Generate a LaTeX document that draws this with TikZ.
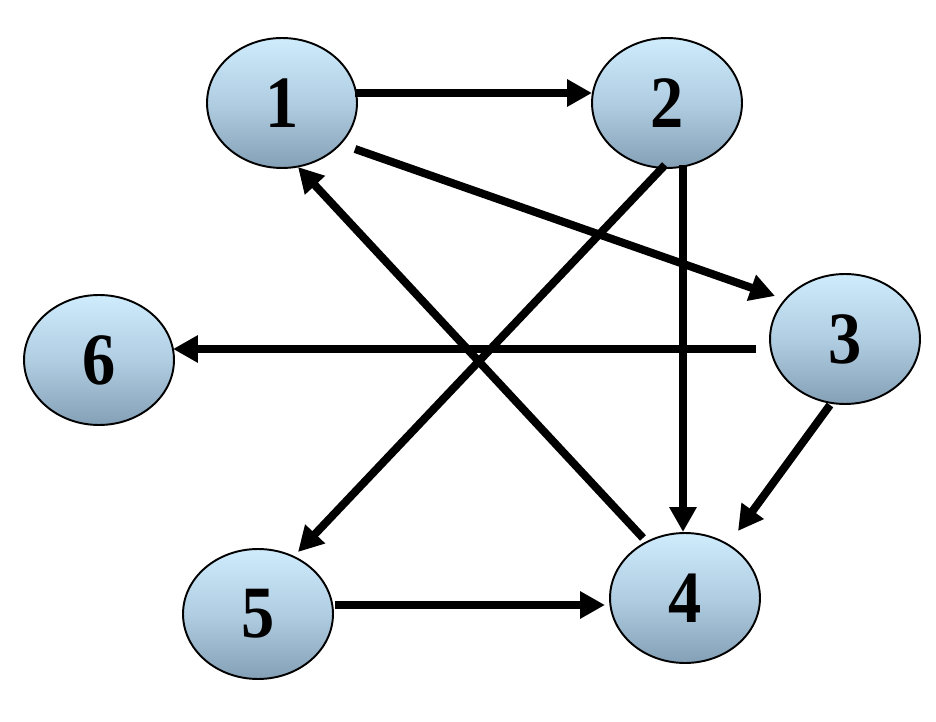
\documentclass[tikz,border=0pt]{standalone}
\usepackage{fontspec}
\setmainfont{Liberation Serif}
\usetikzlibrary{shapes.geometric,arrows.meta,calc}
\definecolor{topblue}{RGB}{206,236,252}
\definecolor{botblue}{RGB}{132,160,182}
\tikzset{
  vert/.style={ellipse, draw=black, line width=1.1pt, minimum width=3cm, minimum height=2.6cm, inner sep=0pt,
    top color=topblue, bottom color=botblue, middle color={rgb,255:red,176;green,205;blue,226},
    font=\fontsize{42}{42}\selectfont\bfseries},
  edge/.style={line width=0.16cm, -{Triangle[length=0.5cm,width=0.52cm]}}
}
\begin{document}
\begin{tikzpicture}[x=0.02cm,y=-0.02cm]
\useasboundingbox[fill=white] (0,0) rectangle (936,722);
\node[vert] (n1) at (282,103) {\scalebox{0.9}[1]{1}};
\node[vert] (n2) at (667,103) {\scalebox{0.9}[1]{2}};
\node[vert] (n3) at (845,339) {\scalebox{0.9}[1]{3}};
\node[vert] (n4) at (685,598) {\scalebox{0.9}[1]{4}};
\node[vert] (n5) at (258,614) {\scalebox{0.9}[1]{5}};
\node[vert] (n6) at (99,360) {\scalebox{0.9}[1]{6}};
\draw[edge] ($(n1)+(73,-10)$) -- ($(n2)+(-75,-10)$);
\draw[edge] ($(n1)+(73,46)$) -- ($(n3)+(-70,-43)$);
\draw[edge] ($(n2)+(-2,62)$) -- ($(n5)+(40,-62)$);
\draw[edge] ($(n2)+(16,62)$) -- ($(n4)+(-2,-66)$);
\draw[edge] ($(n3)+(-89,10)$) -- ($(n6)+(74,-11)$);
\draw[edge] ($(n3)+(-15,66)$) -- ($(n4)+(53,-67)$);
\draw[edge] ($(n4)+(-42,-60)$) -- ($(n1)+(16,64)$);
\draw[edge] ($(n5)+(77,-9)$) -- ($(n4)+(-80,7)$);
\end{tikzpicture}
\end{document}
